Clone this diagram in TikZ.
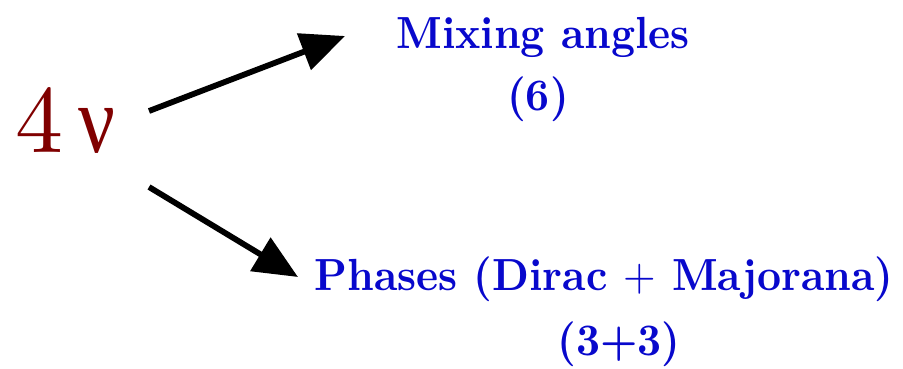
\documentclass[tikz,border=0pt]{standalone}
\usepackage{fontspec}
\newfontfamily\grk{Liberation Serif}[FakeStretch=0.85]
\newfontfamily\lmbx{lmroman10-bold}[Extension=.otf,FakeStretch=0.93]
\newfontfamily\lmrg{lmroman10-regular}[Extension=.otf,FakeStretch=0.93]
\newfontfamily\lmdig{lmroman10-regular}[Extension=.otf]
\usetikzlibrary{arrows.meta}
\definecolor{nured}{RGB}{128,0,0}
\definecolor{lblue}{RGB}{8,8,204}
\begin{document}
\begin{tikzpicture}[x=1pt,y=-1pt,
  lbl/.style={text=lblue,font=\lmbx\fontsize{45}{50}\selectfont,anchor=base,inner sep=0pt},
  arr/.style={line width=5.8pt,-{Triangle[length=44pt,width=38pt]}}]
\useasboundingbox (0,0) rectangle (903,368);
\node[anchor=base west,text=nured,inner sep=0pt,font=\lmdig\fontsize{96}{100}\selectfont] (nu) at (15,152) {4\hspace{15pt}{\grk ν}};
\node[lbl] (mix) at (543,48) {Mixing angles};
\node[lbl] (six) at (538,110) {(6)};
\node[lbl] (ph) at (604,290) {Phases (Dirac {\lmrg +} Majorana)};
\node[lbl] (tt) at (619,355) {(3+3)};
\coordinate (a1s) at (149,111);
\coordinate (a1e) at (345,36);
\coordinate (a2s) at (149,187);
\coordinate (a2e) at (298,277);
\draw[arr] (a1s) -- (a1e);
\draw[arr] (a2s) -- (a2e);
\end{tikzpicture}
\end{document}
